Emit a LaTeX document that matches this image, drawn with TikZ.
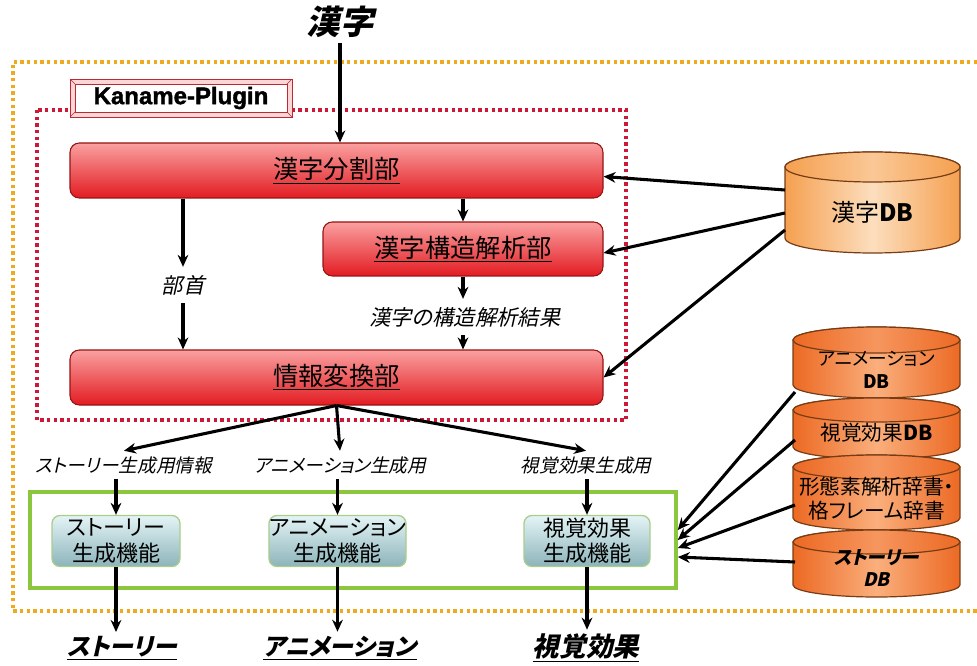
\documentclass[tikz,border=0pt]{standalone}
\usepackage{fontspec}
\setmainfont{Noto Sans CJK JP}[RawFeature=+palt]
\newfontfamily\jpi{Noto Sans CJK JP}[FakeSlant=0.22,RawFeature=+palt]
\newfontfamily\lat{Liberation Sans}[BoldFeatures={FakeBold=1.6}]
\usetikzlibrary{arrows.meta,calc}
\definecolor{redtop}{RGB}{250,160,160}
\definecolor{redbot}{RGB}{226,28,34}
\definecolor{redline}{RGB}{150,20,20}
\definecolor{reddot}{RGB}{205,25,55}
\definecolor{orgdot}{RGB}{240,170,30}
\definecolor{grn}{RGB}{140,198,63}
\definecolor{functop}{RGB}{228,244,246}
\definecolor{funcbot}{RGB}{140,180,186}
\definecolor{funcline}{RGB}{170,205,140}
\definecolor{kpfill}{RGB}{250,215,215}
\definecolor{kpline}{RGB}{190,40,50}
\definecolor{dbline}{RGB}{120,60,20}
\definecolor{kdbedge}{RGB}{245,160,80}
\definecolor{kdbmid}{RGB}{252,222,190}
\definecolor{kdbtop}{RGB}{250,200,150}
\definecolor{sdbedge}{RGB}{236,105,35}
\definecolor{sdbmid}{RGB}{250,175,125}
\definecolor{sdbtop}{RGB}{246,150,95}
\newcommand\dbcyl[6]{%
  \shade[left color=#6edge, right color=#6edge, middle color=#6mid, draw=dbline, line width=0.9pt]
   ({#1-#2},#3) -- ({#1-#2},#4) arc[start angle=180,end angle=0,x radius=#2,y radius=#5]
   -- ({#1+#2},#3) arc[start angle=0,end angle=-180,x radius=#2,y radius=#5] -- cycle;
  \shade[left color=#6edge, right color=#6edge, middle color=#6top, draw=dbline, line width=0.9pt]
   (#1,#3) ellipse[x radius=#2, y radius=#5];
}
\tikzset{
 arr/.style={-{Stealth[length=9pt,width=8pt]}, line width=2.3pt},
 redbox/.style={rounded corners=7pt, draw=redline, line width=0.8pt, top color=redtop, bottom color=redbot, inner sep=0pt, font=\fontsize{19}{22}\selectfont},
 funcbox/.style={rounded corners=6pt, draw=funcline, line width=1pt, top color=functop, bottom color=funcbot, inner sep=0pt, align=center, font=\fontsize{16.5}{19}\selectfont},
 lblin/.style={inner sep=6pt, font=\jpi\fontsize{16}{19}\selectfont},
 lblrow/.style={inner sep=4pt, font=\jpi\fontsize{14}{17}\selectfont},
 outlbl/.style={inner sep=3pt, font=\jpi\bfseries\fontsize{18}{22}\selectfont},
 dbtext/.style={align=center, inner sep=0pt},
}
\begin{document}
\begin{tikzpicture}[x=0.75pt,y=-0.75pt]
\useasboundingbox (0,0) rectangle (977,666);
% outer orange dotted frame
\draw[orgdot, line width=3pt, dash pattern=on 2.4pt off 2.6pt] (977,62) -- (13,62) -- (13,611) -- (977,611);
% red dotted plugin frame
\draw[reddot, line width=3pt, dash pattern=on 2.4pt off 2.6pt] (37,110) rectangle (626,420);
% Kaname-Plugin label
\draw[kpline, fill=kpfill, line width=0.7pt] (70,79) rectangle (292,117);
\draw[kpline, fill=white, line width=0.7pt] (75,84) rectangle (287,112);
\draw[kpline, line width=0.5pt] (70,79) -- (75,84) (292,79) -- (287,84) (70,117) -- (75,112) (292,117) -- (287,112);
\node (kp) at (181,98) {\lat\bfseries\fontsize{18}{20}\selectfont Kaname-Plugin};
% title
\node (kanji) at (340,22) {\jpi\bfseries\fontsize{25}{30}\selectfont 漢字};
% red boxes
\node[redbox, minimum width=399.75pt, minimum height=41.25pt] (bunkatsu) at (336.5,170.5) {\underline{漢字分割部}};
\node[redbox, minimum width=210pt, minimum height=40.5pt] (kozo) at (463,249) {\underline{漢字構造解析部}};
\node[redbox, minimum width=399.75pt, minimum height=41.25pt] (henkan) at (336.5,377.5) {\underline{情報変換部}};
\node[lblin] (bushu) at (183,285) {部首};
\node[lblin] (kekka) at (465,317) {漢字の構造解析結果};
% green group
\node[draw=grn, line width=2.6pt, minimum width=484.5pt, minimum height=72pt, inner sep=0pt] (grp) at (353,540) {};
% function boxes
\node[funcbox, minimum width=96pt, minimum height=38.25pt] (f1) at (116,541) {ストーリー\\生成機能};
\node[funcbox, minimum width=93.75pt, minimum height=38.25pt] (f2) at (337.5,541) {アニメーション\\生成機能};
\node[funcbox, minimum width=94.5pt, minimum height=38.25pt] (f3) at (587,541) {視覚効果\\生成機能};
% row labels
\node[lblrow] (l1) at (124,465) {ストーリー生成用情報};
\node[lblrow] (l2) at (340,465) {アニメーション生成用};
\node[lblrow] (l3) at (586,465) {視覚効果生成用};
% outputs
\node[outlbl] (o1) at (122,648) {\underline{ストーリー}};
\node[outlbl] (o2) at (340,648) {\underline{アニメーション}};
\node[outlbl, font=\jpi\bfseries\fontsize{20}{24}\selectfont] (o3) at (586,648) {\underline{視覚効果}};
% databases
\dbcyl{872.5}{87.5}{167}{238}{15}{kdb}
\node[dbtext, font=\fontsize{18}{21}\selectfont] (kdb) at (872.5,212) {漢字\textbf{DB}};
\dbcyl{876.5}{83.5}{340}{385}{13}{sdb}
\dbcyl{876.5}{83.5}{410}{447}{12}{sdb}
\dbcyl{876.5}{83.5}{467}{518}{12}{sdb}
\dbcyl{876.5}{83.5}{542}{585}{12}{sdb}
\node[dbtext, font=\fontsize{14}{17}\selectfont] (adb) at (876.5,370) {アニメーション\\\textbf{DB}};
\node[dbtext, font=\fontsize{15.5}{18}\selectfont] (vdb) at (876.5,433) {視覚効果\textbf{DB}};
\node[dbtext, font=\fontsize{15.5}{18}\selectfont] (mdb) at (876.5,499) {形態素解析辞書・\\格フレーム辞書};
\node[dbtext, font=\jpi\bfseries\fontsize{14}{17}\selectfont] (stdb) at (876.5,568) {ストーリー\\DB};
% anchor coordinates on databases
\coordinate (k1) at (785,190);
\coordinate (k2) at (785,213);
\coordinate (k3) at (785,230);
\coordinate (s1) at (795,392);
\coordinate (s2) at (795,440);
\coordinate (s3) at (795,505);
\coordinate (s4) at (795,562);
% connectors
\draw[arr] (kanji.south) -- (kanji.south |- bunkatsu.north);
\draw[arr] (kozo.north |- bunkatsu.south) -- (kozo.north);
\draw[arr] (bunkatsu.south -| bushu.north) -- (bushu.north);
\draw[arr] (bushu.south) -- (bushu.south |- henkan.north);
\draw[arr] (kozo.south) -- (kozo.south |- kekka.north);
\draw[arr] (kozo.south |- kekka.south) -- (kozo.south |- henkan.north);
\draw[arr] (henkan.south) -- (l1.north);
\draw[arr] (henkan.south) -- (l2.north);
\draw[arr] (henkan.south) -- (l3.north);
\draw[arr] (f1.north |- l1.south) -- (f1.north);
\draw[arr] (f2.north |- l2.south) -- (f2.north);
\draw[arr] (f3.north |- l3.south) -- (f3.north);
\draw[arr] (f1.south) -- (f1.south |- o1.north);
\draw[arr] (f2.south) -- (f2.south |- o2.north);
\draw[arr] (f3.south) -- (f3.south |- o3.north);
\draw[arr] (k1) -- ([yshift=-4.5pt]bunkatsu.east);
\draw[arr] (k2) -- ([yshift=-3pt]kozo.east);
\draw[arr] (k3) -- (henkan.east);
\draw[arr] (s1) -- ([yshift=7.5pt]grp.east);
\draw[arr] (s2) -- (grp.east);
\draw[arr] (s3) -- ([yshift=-6pt]grp.east);
\draw[arr] (s4) -- ([yshift=-12.75pt]grp.east);
\end{tikzpicture}
\end{document}
